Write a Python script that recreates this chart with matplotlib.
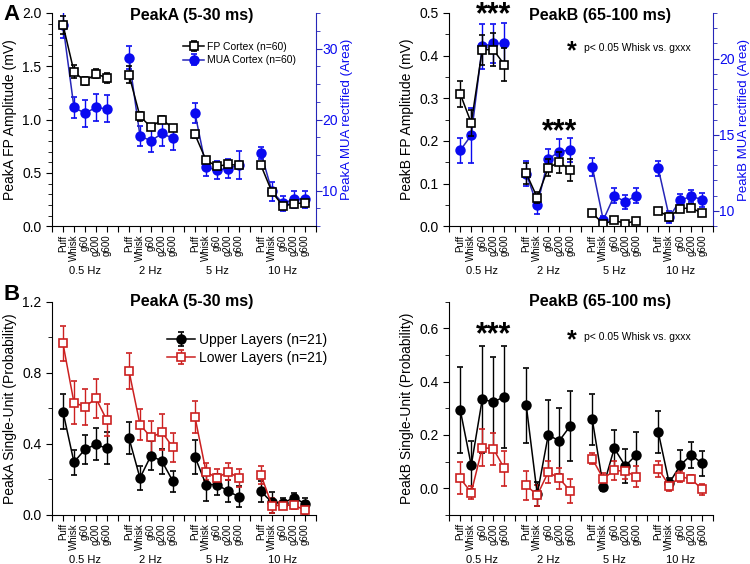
import numpy as np
import matplotlib
matplotlib.use("Agg")
import matplotlib.pyplot as plt
from matplotlib.ticker import MultipleLocator

plt.rcParams['font.family'] = ['Liberation Sans', 'DejaVu Sans']

# ── data ────────────────────────────────────────────────────────────────
conds = ["Puff", "Whisk", "g60", "g200", "g600"]
freqs = ["0.5 Hz", "2 Hz", "5 Hz", "10 Hz"]

# Panel A, PeakA: FP (mV, left) and MUA (area, right)
fpA      = [1.89, 1.45, 1.36, 1.43, 1.39,  1.42, 1.03, 0.93, 1.00, 0.92,
            0.86, 0.62, 0.56, 0.58, 0.57,  0.57, 0.32, 0.19, 0.21, 0.22]
fpA_err  = [0.085, 0.06, 0.04, 0.04, 0.045, 0.08, 0.04, 0.03, 0.03, 0.03,
            0.03, 0.02, 0.02, 0.02, 0.02,  0.02, 0.02, 0.02, 0.02, 0.02]
muaA     = [33.3, 21.7, 20.9, 21.7, 21.5,  28.7, 17.7, 17.0, 18.05, 17.35,
            20.9, 13.3, 12.9, 13.1, 13.6,  15.3, 9.9, 8.2, 8.8, 8.8]
muaA_err = [1.8, 1.5, 1.9, 1.9, 1.9,  1.6, 1.4, 1.5, 1.7, 1.7,
            1.4, 1.2, 1.3, 1.3, 2.0,  0.9, 1.3, 1.0, 1.2, 1.2]

# Panel A, PeakB
fpB      = [0.310, 0.242, 0.414, 0.414, 0.379,  0.124, 0.067, 0.137, 0.150, 0.132,
            0.031, 0.005, 0.014, 0.006, 0.013,  0.036, 0.022, 0.041, 0.043, 0.030]
fpB_err  = [0.03, 0.03, 0.035, 0.038, 0.038,  0.025, 0.012, 0.02, 0.025, 0.025,
            0.004, 0.004, 0.004, 0.004, 0.004,  0.005, 0.01, 0.006, 0.008, 0.006]
muaB     = [13.98, 14.97, 20.8, 21.0, 21.0,  12.45, 10.37, 13.4, 13.9, 14.0,
            12.9, 9.4, 11.0, 10.6, 11.0,  12.8, 9.6, 10.7, 10.96, 10.74]
muaB_err = [0.8, 1.8, 1.5, 1.3, 1.35,  0.8, 0.6, 0.7, 0.8, 0.8,
            0.6, 0.3, 0.5, 0.45, 0.5,  0.5, 0.4, 0.4, 0.4, 0.45]

# Panel B, PeakA single units
upA      = [0.581, 0.297, 0.369, 0.397, 0.374,  0.433, 0.208, 0.334, 0.302, 0.189,
            0.327, 0.171, 0.171, 0.134, 0.102,  0.132, 0.071, 0.068, 0.096, 0.064]
upA_err  = [0.10, 0.07, 0.08, 0.09, 0.09,  0.09, 0.065, 0.08, 0.07, 0.06,
            0.095, 0.09, 0.06, 0.06, 0.06,  0.06, 0.06, 0.03, 0.03, 0.03]
loA      = [0.965, 0.632, 0.609, 0.656, 0.532,  0.811, 0.509, 0.436, 0.466, 0.380,
            0.551, 0.244, 0.207, 0.244, 0.207,  0.226, 0.053, 0.053, 0.056, 0.026]
loA_err  = [0.10, 0.12, 0.10, 0.11, 0.09,  0.10, 0.09, 0.09, 0.10, 0.08,
            0.09, 0.05, 0.05, 0.05, 0.05,  0.05, 0.04, 0.02, 0.02, 0.02]

# Panel B, PeakB single units
upB      = [0.294, 0.086, 0.334, 0.324, 0.343,  0.311, -0.022, 0.200, 0.178, 0.234,
            0.259, 0.006, 0.150, 0.084, 0.125,  0.211, 0.019, 0.087, 0.125, 0.093]
upB_err  = [0.16, 0.09, 0.20, 0.17, 0.19,  0.14, 0.045, 0.13, 0.125, 0.13,
            0.095, 0.015, 0.07, 0.065, 0.085,  0.08, 0.02, 0.055, 0.048, 0.047]
loB      = [0.037, -0.016, 0.152, 0.149, 0.075,  0.011, -0.026, 0.061, 0.037, -0.010,
            0.111, 0.036, 0.067, 0.064, 0.044,  0.074, 0.009, 0.044, 0.034, -0.004]
loB_err  = [0.06, 0.025, 0.07, 0.06, 0.065,  0.055, 0.04, 0.04, 0.04, 0.045,
            0.02, 0.02, 0.035, 0.03, 0.04,  0.03, 0.02, 0.02, 0.015, 0.02]

BLUE = "#0a0af0"
BLUE_LINE = "#2626b8"
RED = "#cc2020"

# x: 5 conditions per frequency, one empty slot between groups
xpos = [np.arange(5) + 1 + 6 * g for g in range(4)]


def plot_groups(ax, y, err, color, marker, mfc, ms, label, lc=None):
    for g in range(4):
        sl = slice(5 * g, 5 * g + 5)
        ax.errorbar(xpos[g], y[sl], yerr=err[sl], color=lc or color, ecolor=color,
                    marker=marker, mfc=mfc, mec=color, ms=ms, mew=1.2, lw=1.1,
                    elinewidth=1.0, capsize=2.2, capthick=1.0,
                    label=label if g == 0 else None)


def style_x(ax):
    ticks = np.arange(0, 25)
    labels = []
    for t in ticks:
        labels.append("" if t % 6 == 0 else conds[t % 6 - 1])
    ax.set_xticks(ticks)
    ax.set_xticklabels(labels, rotation=90, fontsize=7)
    ax.set_xlim(0, 24)
    for g, f in enumerate(freqs):
        ax.annotate(f, xy=(3 + 6 * g, 0), xycoords=("data", "axes fraction"),
                    xytext=(0, -32.5), textcoords="offset points",
                    ha="center", va="center", fontsize=8)
    for s in ["top", "right"]:
        ax.spines[s].set_visible(False)
    ax.tick_params(axis="x", direction="out", length=4, pad=2)
    ax.tick_params(axis="y", which="both", direction="out", labelsize=10)
    ax.tick_params(axis="y", which="major", length=4)
    ax.tick_params(axis="y", which="minor", length=3)


fig = plt.figure(figsize=(7.5, 5.64), dpi=100)
W, H = 0.352, 0.378
axAL = fig.add_axes([0.0693, 0.599, W, H])
axAR = fig.add_axes([0.599, 0.599, W, H])
axBL = fig.add_axes([0.0693, 0.087, W, H])
axBR = fig.add_axes([0.599, 0.087, W, H])

# ── Panel A ─────────────────────────────────────────────────────────────
twins = []
for ax, fp, fpe, mua, muae, name, ylim, yr, ymaj, ymin, rmaj, rmin, title, tx in [
    (axAL, fpA, fpA_err, muaA, muaA_err, "PeakA", (0, 2.0), (5, 35), 0.5, 0.1, 10, 2.5,
     "PeakA (5-30 ms)", 0.53),
    (axAR, fpB, fpB_err, muaB, muaB_err, "PeakB", (0, 0.5), (9, 23), 0.1, 0.05, 5, 1,
     "PeakB (65-100 ms)", 0.57),
]:
    ax2 = ax.twinx()
    twins.append(ax2)
    plot_groups(ax2, mua, muae, BLUE, "o", BLUE, 6.3, "MUA Cortex (n=60)", lc=BLUE_LINE)
    plot_groups(ax, fp, fpe, "black", "s", "white", 5.8, "FP Cortex (n=60)")
    ax.set_zorder(ax2.get_zorder() + 1)
    ax.patch.set_visible(False)
    ax.set_ylim(*ylim)
    ax2.set_ylim(*yr)
    ax.yaxis.set_major_locator(MultipleLocator(ymaj))
    ax.yaxis.set_minor_locator(MultipleLocator(ymin))
    ax2.yaxis.set_major_locator(MultipleLocator(rmaj))
    ax2.yaxis.set_minor_locator(MultipleLocator(rmin))
    style_x(ax)
    ax2.set_xlim(0, 24)
    ax2.spines["top"].set_visible(False)
    ax2.spines["left"].set_visible(False)
    ax2.spines["bottom"].set_visible(False)
    ax2.spines["right"].set_color(BLUE_LINE)
    ax2.tick_params(axis="y", which="both", colors=BLUE_LINE, labelcolor=BLUE,
                    labelsize=10, pad=0.5)
    ax2.tick_params(axis="y", which="major", length=4)
    ax2.tick_params(axis="y", which="minor", length=3)
    ax.set_ylabel(f"{name} FP Amplitude (mV)", fontsize=10, labelpad=4)
    ax2.set_ylabel(f"{name} MUA rectified (Area)", fontsize=9.5, color=BLUE, labelpad=2)
    ax.text(tx, 0.99, title, transform=ax.transAxes, ha="center", va="center",
            fontsize=11.5, fontweight="bold")

h1, l1 = axAL.get_legend_handles_labels()
h2, l2 = twins[0].get_legend_handles_labels()
axAL.legend(h1 + h2, l1 + l2, loc="upper left", bbox_to_anchor=(0.47, 0.9),
            frameon=False, fontsize=7.5, handlelength=2.0, handletextpad=0.3,
            labelspacing=0.35, borderpad=0.2)

# ── Panel B ─────────────────────────────────────────────────────────────
plot_groups(axBL, upA, upA_err, "black", "o", "black", 6.3, "Upper Layers (n=21)")
plot_groups(axBL, loA, loA_err, RED, "s", "white", 5.8, "Lower Layers (n=21)")
axBL.set_ylim(0, 1.2)
axBL.yaxis.set_major_locator(MultipleLocator(0.4))
axBL.yaxis.set_minor_locator(MultipleLocator(0.2))
style_x(axBL)
axBL.set_ylabel("PeakA Single-Unit (Probability)", fontsize=10, labelpad=4)
axBL.text(0.53, 1.0, "PeakA (5-30 ms)", transform=axBL.transAxes, ha="center",
          va="center", fontsize=11.5, fontweight="bold")
axBL.legend(loc="upper left", bbox_to_anchor=(0.4, 0.9), frameon=False, fontsize=10,
            handlelength=2.0, handletextpad=0.3, labelspacing=0.3, borderpad=0.2)

plot_groups(axBR, upB, upB_err, "black", "o", "black", 6.3, "Upper Layers (n=21)")
plot_groups(axBR, loB, loB_err, RED, "s", "white", 5.8, "Lower Layers (n=21)")
axBR.set_ylim(-0.1, 0.7)
axBR.yaxis.set_major_locator(MultipleLocator(0.2))
axBR.yaxis.set_minor_locator(MultipleLocator(0.1))
style_x(axBR)
axBR.set_ylabel("PeakB Single-Unit (Probability)", fontsize=10, labelpad=4)
axBR.text(0.57, 1.0, "PeakB (65-100 ms)", transform=axBR.transAxes, ha="center",
          va="center", fontsize=11.5, fontweight="bold")

# ── significance marks ──────────────────────────────────────────────────
for ax, x, y in [(axAR, 4, 0.495), (axAR, 10, 0.22), (axBR, 4, 0.575)]:
    ax.text(x, y, "***", ha="center", va="center", fontsize=22, fontweight="bold",
            clip_on=False)
for ax in [axAR, axBR]:
    ax.text(0.465, 0.82, "*", transform=ax.transAxes, ha="center", va="center",
            fontsize=18, fontweight="bold")
    ax.text(0.51, 0.835, "p< 0.05 Whisk vs. gxxx", transform=ax.transAxes,
            ha="left", va="center", fontsize=7.5)

fig.text(0.005, 0.975, "A", fontsize=16, fontweight="bold", va="center")
fig.text(0.005, 0.478, "B", fontsize=16, fontweight="bold", va="center")

fig.savefig("out.png", dpi=100)
